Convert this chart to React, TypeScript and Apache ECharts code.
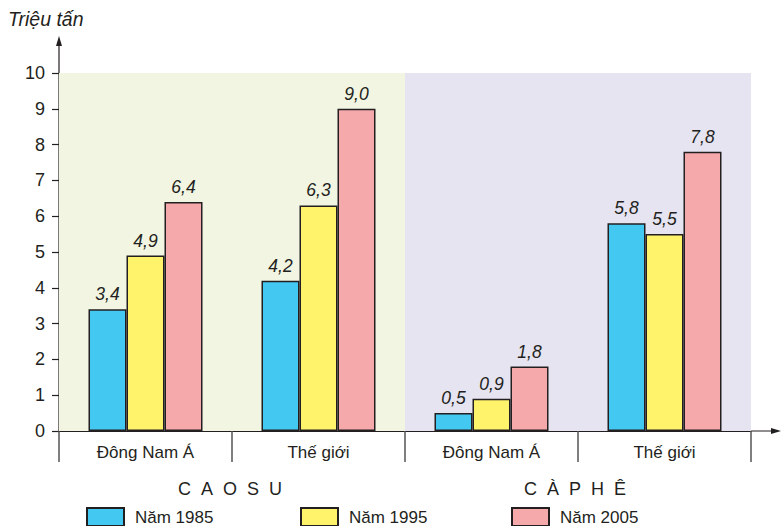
import React, { useEffect, useRef } from "react";
import * as echarts from "echarts";

const regions = ["Đông Nam Á", "Thế giới"];
const products = ["CAO SU", "CÀ PHÊ"];
const years = ["Năm 1985", "Năm 1995", "Năm 2005"];
const values1985 = [3.4, 4.2, 0.5, 5.8];
const values1995 = [4.9, 6.3, 0.9, 5.5];
const values2005 = [6.4, 9.0, 1.8, 7.8];
const yTicks = [0, 10, 1];
const unitLabel = "Triệu tấn";

const FONT = "'Liberation Sans', Arial, sans-serif";
const INK = "#231f20";
const colors = ["#43c8f2", "#fef36b", "#f5a9ab"];
const spaced = (s: string) => s.replace(/ /g, "").split("").join("\u00A0\u00A0");

export default function App() {
  const ref = useRef<HTMLDivElement>(null);
  useEffect(() => {
    document.body.style.margin = "0";
    if (!ref.current) return;
    const chart = echarts.init(ref.current, null, { renderer: "svg" });
    const categories = products.flatMap((p, i) => regions.map((r) => i + "|" + r));
    const seriesValues = [values1985, values1995, values2005];
    const gridLeft = 59, gridRight = 30, gridTop = 73, gridBottom = 95;
    const x0 = gridLeft, y0 = 526 - gridBottom;
    chart.setOption({
      animation: false,
      textStyle: { fontFamily: FONT },
      grid: { left: gridLeft, right: gridRight, top: gridTop, bottom: gridBottom, containLabel: false },
      legend: years.map((y, i) => ({
        data: [y],
        left: [86, 300, 511][i],
        top: 507,
        padding: 0,
        icon: "rect",
        itemWidth: 37,
        itemHeight: 18,
        textStyle: { fontFamily: FONT, fontSize: 17, color: INK, padding: [0, 0, 0, 6] },
        selectedMode: false,
      })),
      xAxis: [
        {
          type: "category",
          data: categories,
          axisLine: { show: true, lineStyle: { color: INK, width: 1.2 } },
          axisTick: { show: true, length: 31, interval: 0, lineStyle: { color: "#555", width: 1.5 } },
          axisLabel: {
            interval: 0,
            margin: 13,
            fontFamily: FONT,
            fontSize: 17,
            color: INK,
            formatter: (v: string) => v.split("|")[1],
          },
          splitArea: { show: false },
          z: 3,
        },
        {
          type: "category",
          data: products,
          position: "bottom",
          axisLine: { show: false },
          axisTick: { show: false },
          axisLabel: { show: false },
          splitArea: { show: true, interval: 0, areaStyle: { color: ["#f1f5e2", "#e6e4f1"] } },
          z: 0,
        },
      ],
      yAxis: {
        type: "value",
        min: yTicks[0],
        max: yTicks[1],
        interval: yTicks[2],
        axisLine: { show: false },
        axisTick: { show: true, length: 7, lineStyle: { color: INK, width: 1.2 } },
        axisLabel: { margin: 14, fontFamily: FONT, fontSize: 18, color: INK },
        splitLine: { show: false },
      },
      series: years.map((y, i) => ({
        name: y,
        type: "bar",
        xAxisIndex: 0,
        data: seriesValues[i],
        barWidth: 38,
        barGap: "0%",
        itemStyle: { color: colors[i], borderColor: INK, borderWidth: 1.5 },
        label: {
          show: true,
          position: "top",
          distance: 6,
          fontFamily: FONT,
          fontStyle: "italic",
          fontSize: 17.5,
          color: INK,
          formatter: (p: any) => Number(p.value).toFixed(1).replace(".", ","),
        },
      })),
      graphic: [
        { type: "line", shape: { x1: x0, y1: y0, x2: x0, y2: 42 }, style: { stroke: INK, lineWidth: 1.2 } },
        { type: "polygon", shape: { points: [[x0, 36], [x0 - 3, 46], [x0 + 3, 46]] }, style: { fill: INK } },
        { type: "line", shape: { x1: x0, y1: y0, x2: 776, y2: y0 }, style: { stroke: INK, lineWidth: 1.2 } },
        { type: "polygon", shape: { points: [[781, y0], [771, y0 - 3], [771, y0 + 3]] }, style: { fill: INK } },
        {
          type: "text",
          left: 8,
          top: 9,
          style: { text: unitLabel, fontFamily: FONT, fontStyle: "italic", fontSize: 19.5, fill: INK },
        },
        ...products.map((p, i) => ({
          type: "text",
          x: [230, 575][i],
          y: 489,
          style: { text: spaced(p), fontFamily: FONT, fontSize: 18, fill: INK, align: "center", verticalAlign: "middle" },
        })),
      ],
    });
    return () => chart.dispose();
  }, []);
  return <div ref={ref} style={{ width: 781, height: 526 }} />;
}
